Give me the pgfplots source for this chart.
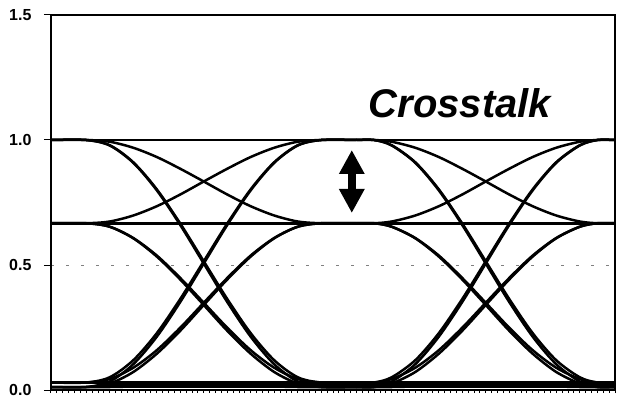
\documentclass[border=0pt]{standalone}
\usepackage{fontspec}
\setmainfont{Liberation Sans}
\usepackage{pgfplots}
\pgfplotsset{compat=1.18}
\usepackage{pgfplotstable}
\usetikzlibrary{arrows.meta}

% eye traces: xa = first bit interval, xb = second; columns are start->end levels
% H = 1.0, M = 0.667 (with crosstalk), La/Lb = the two low levels
\pgfplotstableread{
xa xb HLa   HLb   MLa   MLb   LaH   LbH   LaM   LbM   HM    MH    LaLb  LbLa
0  52 1.000 1.000 0.667 0.667 0.030 0.012 0.030 0.012 1.000 0.667 0.030 0.012
6  55 1.000 1.000 0.667 0.667 0.030 0.012 0.030 0.012 1.000 0.667 0.030 0.012
10 58 0.979 0.978 0.653 0.653 0.051 0.034 0.044 0.026 0.993 0.674 0.030 0.012
14 62 0.911 0.909 0.608 0.607 0.119 0.103 0.089 0.072 0.969 0.698 0.028 0.014
18 66 0.803 0.799 0.538 0.534 0.227 0.213 0.159 0.145 0.932 0.735 0.026 0.016
22 70 0.666 0.660 0.448 0.442 0.364 0.352 0.249 0.237 0.885 0.782 0.024 0.018
26 74 0.515 0.506 0.349 0.340 0.515 0.506 0.349 0.340 0.834 0.834 0.021 0.021
30 78 0.364 0.352 0.249 0.237 0.666 0.660 0.448 0.442 0.782 0.885 0.018 0.024
34 82 0.227 0.213 0.159 0.145 0.803 0.799 0.538 0.534 0.735 0.932 0.016 0.026
38 86 0.119 0.103 0.089 0.072 0.911 0.909 0.608 0.607 0.698 0.969 0.014 0.028
42 90 0.051 0.034 0.044 0.026 0.979 0.978 0.653 0.653 0.674 0.993 0.012 0.030
46 93 0.030 0.012 0.030 0.012 1.000 1.000 0.667 0.667 0.667 1.000 0.012 0.030
52 96 0.030 0.012 0.030 0.012 1.000 1.000 0.667 0.667 0.667 1.000 0.012 0.030
}\eye

\begin{document}
\begin{tikzpicture}
\begin{axis}[
  scale only axis, width=564pt, height=375pt,
  xmin=0, xmax=96, ymin=0, ymax=1.5,
  xtick=\empty,
  extra x ticks={0,1,...,96}, extra x tick labels={},
  extra x tick style={major tick length=3pt, grid=none},
  ytick={0,0.5,1,1.5}, major tick length=7pt,
  tick pos=left, tick align=outside,
  every tick/.style={black, line width=1pt},
  axis line style={line width=2.2pt},
  ymajorgrids, major grid style={gray, line width=0.8pt, dash pattern=on 3pt off 12pt},
  yticklabel={\fontsize{16}{16}\selectfont\textbf{\pgfmathprintnumber[fixed,fixed zerofill,precision=1,assume math mode=true]{\tick}}},
  yticklabel style={xshift=-9pt},
  cycle list={{black}},
  every axis plot post/.style={black, solid, line width=2.5pt, mark=none, smooth},
]
\pgfplotsinvokeforeach{HLa,HLb,MLa,MLb,LaH,LbH,LaM,LbM,HM,MH,LaLb,LbLa}{
  \addplot table[x=xa, y=#1] {\eye};
  \addplot table[x=xb, y=#1] {\eye};
}
\addplot[line width=2pt] coordinates {(0,1) (96,1)};
\addplot[line width=2pt] coordinates {(0,0.667) (96,0.667)};
\addplot coordinates {(0,0.030) (96,0.030)};
\addplot coordinates {(0,0.012) (96,0.012)};
\addplot coordinates {(9,0.021) (96,0.021)};

\draw[line width=8pt, {Triangle[width=24pt,length=24pt]}-{Triangle[width=24pt,length=24pt]}]
  (axis cs:51.2,0.708) -- (axis cs:51.2,0.96);
\node[anchor=base, font=\fontsize{40}{40}\selectfont\bfseries\itshape]
  at (axis cs:69.6,1.088) {Crosstalk};

\coordinate (bl) at (rel axis cs:0,0);
\coordinate (tr) at (rel axis cs:1,1);
\end{axis}
\draw[line width=2.2pt] (bl) rectangle (tr);
\pgfresetboundingbox
\path ([shift={(-51pt,-9pt)}]bl) rectangle ([shift={(2pt,15pt)}]tr);
\end{tikzpicture}
\end{document}
